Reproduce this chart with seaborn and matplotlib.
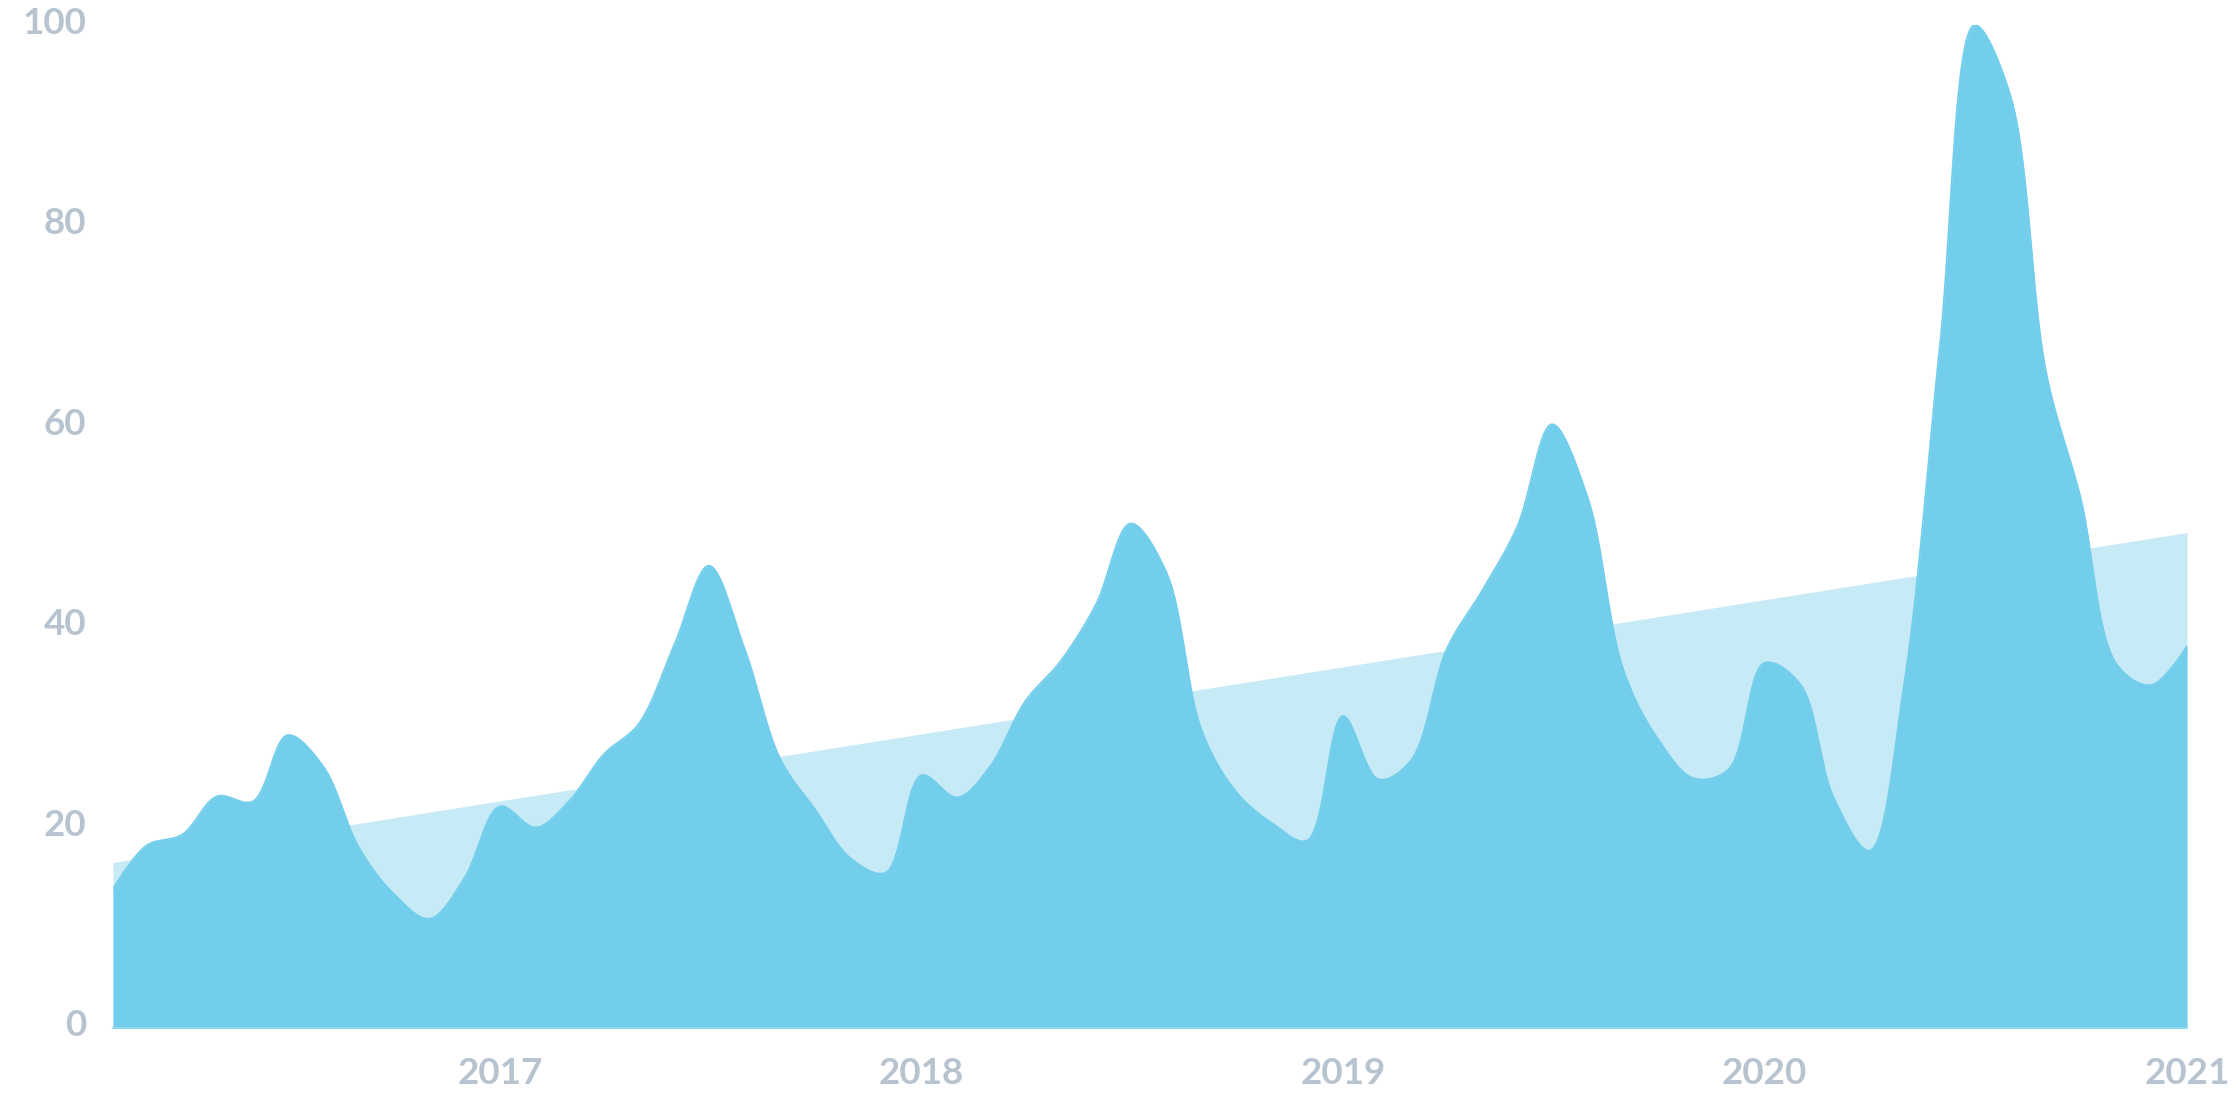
import numpy as np
import pandas as pd
import matplotlib
matplotlib.use("Agg")
import matplotlib.pyplot as plt
import matplotlib.dates as mdates
from matplotlib.transforms import ScaledTranslation
import seaborn as sns

# ---------------- data ----------------
months = pd.date_range("2016-02-01", periods=60, freq="MS")
interest = [
    13.9, 18.2, 19.3, 23.1, 22.6, 29.2, 26.1, 18.0, 13.4, 10.9, 14.9,          # Feb-Dec 2016
    22.1, 20.0, 22.5, 27.3, 30.3, 38.2, 46.1, 37.8, 26.8, 21.8, 16.9, 15.5,    # 2017
    25.2, 23.0, 26.0, 32.6, 36.5, 42.2, 50.3, 45.5, 29.6, 23.5, 20.4, 18.7,    # 2018
    31.1, 24.8, 26.7, 37.8, 43.5, 50.0, 60.2, 52.9, 35.7, 28.8, 24.9, 25.8,    # 2019
    36.4, 34.3, 23.0, 17.7, 34.3, 68.1, 100.0, 93.0, 65.4, 52.8, 36.3, 34.2,   # 2020
    38.1,                                                                       # Jan 2021
]
trend_start = 16.5
trend_end = 49.4
year_labels = ["2017", "2018", "2019", "2020", "2021"]
y_ticks = [0, 20, 40, 60, 80, 100]

MAIN = "#73CEEB"
LIGHT = "#C7EBF6"
TEXT = "#B7C3CF"

W, H = 2240, 1120
AX_L, AX_B, AX_W, AX_H = 113, 92, 2074, 1003   # pixel box of the plot area


def catmull_rom(px, py, alpha=0.5, n=40):
    """Centripetal Catmull-Rom path (same construction as d3.curveCatmullRom)."""
    P = np.column_stack([px, py]).astype(float)
    N = len(P)
    eps = 1e-12
    out = [P[0:1]]
    for i in range(N - 1):
        p0 = P[i - 1] if i > 0 else P[i]
        p1, p2 = P[i], P[i + 1]
        p3 = P[i + 2] if i + 2 < N else P[i + 1]
        l01 = np.sum((p1 - p0) ** 2) ** alpha if i > 0 else 0.0
        l12 = np.sum((p2 - p1) ** 2) ** alpha
        l23 = np.sum((p3 - p2) ** 2) ** alpha if i + 2 < N else 0.0
        l01a, l12a, l23a = np.sqrt(l01), np.sqrt(l12), np.sqrt(l23)
        c1 = p1.copy()
        if l01a > eps:
            a = 2 * l01 + 3 * l01a * l12a + l12
            m = 3 * l01a * (l01a + l12a)
            c1 = (p1 * a - p0 * l12 + p2 * l01) / m
        c2 = p2.copy()
        if l23a > eps:
            b = 2 * l23 + 3 * l23a * l12a + l12
            m = 3 * l23a * (l23a + l12a)
            c2 = (p2 * b + p1 * l23 - p3 * l12) / m
        t = np.linspace(0, 1, n)[1:, None]
        seg = ((1 - t) ** 3) * p1 + 3 * ((1 - t) ** 2) * t * c1 + 3 * (1 - t) * t ** 2 * c2 + t ** 3 * p2
        out.append(seg)
    Q = np.vstack(out)
    return Q[:, 0], Q[:, 1]


sns.set_theme(style="white")
plt.rcParams["font.family"] = ["Lato", "DejaVu Sans"]

fig = plt.figure(figsize=(W / 100, H / 100), dpi=100)
fig.patch.set_facecolor("white")
ax = fig.add_axes([AX_L / W, AX_B / H, AX_W / W, AX_H / H])
ax.set_facecolor("white")

xnum = mdates.date2num(months)
x0, x1 = xnum[0], xnum[-1]
ymax = 100.0
# build the smooth path in pixel space (so the curve shape matches the screen), then map back
px = (xnum - x0) / (x1 - x0) * AX_W
py = np.asarray(interest) / ymax * AX_H
sx, sy = catmull_rom(px, py)
cx = x0 + sx / AX_W * (x1 - x0)
cy = sy / AX_H * ymax

# trend band
trend_df = pd.DataFrame({"x": [x0, x1], "y": [trend_start, trend_end]})
ax.fill_between(trend_df["x"], 0, trend_df["y"], color=LIGHT, lw=0, zorder=1)

# main area
curve_df = pd.DataFrame({"x": cx, "y": cy})
ax.fill_between(curve_df["x"], 0, curve_df["y"], color=MAIN, lw=0, zorder=2)
sns.lineplot(data=curve_df, x="x", y="y", ax=ax, color=MAIN, lw=1.2, sort=False,
             estimator=None, zorder=3)
ax.plot([x0, x1], [0, 0], color="#8ED8F0", lw=1.5, zorder=4, clip_on=False)

ax.set_xlim(x0, x1)
ax.set_ylim(0, ymax)
for sp in ax.spines.values():
    sp.set_visible(False)
ax.grid(False)
ax.set_xlabel("")
ax.set_ylabel("")

year_pos = mdates.date2num(pd.to_datetime([f"{y}-01-01" for y in year_labels]))
ax.set_xticks(year_pos)
ax.set_xticklabels(year_labels)
ax.set_yticks(y_ticks)
ax.set_yticklabels([str(v) for v in y_ticks])
ax.tick_params(axis="both", length=0, labelsize=26.5, labelcolor=TEXT)
ax.tick_params(axis="y", pad=19.4)
ax.tick_params(axis="x", pad=21)
for lab in ax.get_xticklabels() + ax.get_yticklabels():
    lab.set_fontweight("bold")
off = ScaledTranslation(0, 5 / 100, fig.dpi_scale_trans)
for lab in ax.get_yticklabels():
    lab.set_transform(lab.get_transform() + off)

fig.savefig("out.png", dpi=100, facecolor="white")
